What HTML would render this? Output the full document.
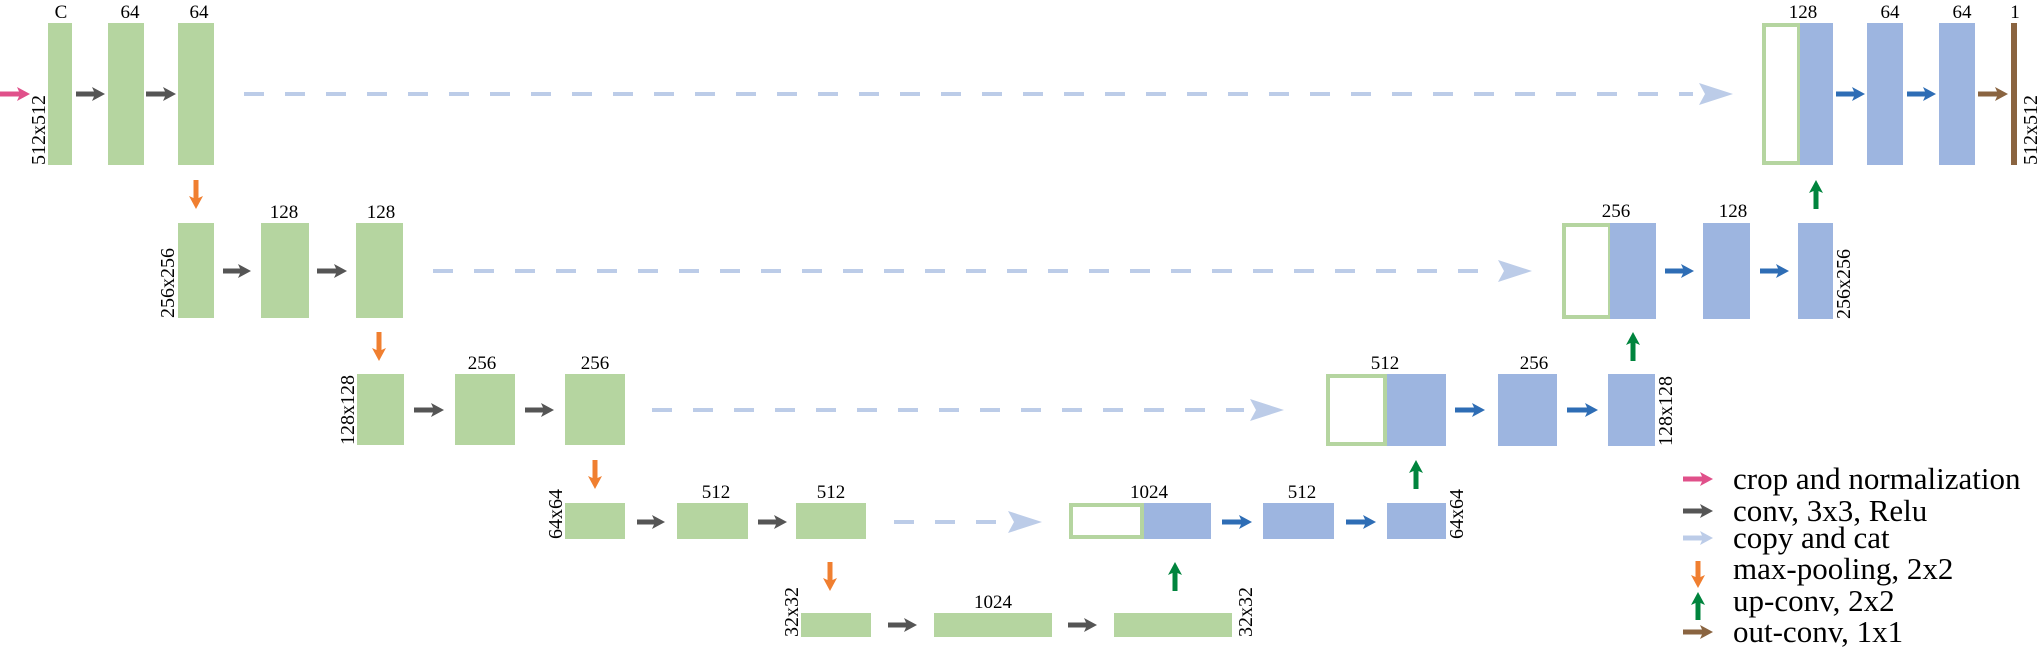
<!DOCTYPE html>
<html><head><meta charset="utf-8"><style>
html,body{margin:0;padding:0;background:#fff;}
svg{display:block;}
text{font-family:"Liberation Serif",serif;fill:#000;}
</style></head><body>
<svg width="2043" height="650" viewBox="0 0 2043 650">
<g id="root"></g>
</svg>
<script>
const root=document.getElementById('root');
const NS='http://www.w3.org/2000/svg';
function mk(tag,attrs,name){const e=document.createElementNS(NS,tag);for(const k in attrs)e.setAttribute(k,attrs[k]);


root.appendChild(e);return e;}
const GREEN='#b5d5a0',BLUE='#9db5e0';
// blocks: x0,x1,y0,y1,fill
const blocks=[
[48,72,23,165,GREEN],[108,144,23,165,GREEN],[178,214,23,165,GREEN],
[178,214,223,318,GREEN],[261,309,223,318,GREEN],[356,403,223,318,GREEN],
[357,404,374,445,GREEN],[455,515,374,445,GREEN],[565,625,374,445,GREEN],
[565,625,503,539,GREEN],[677,748,503,539,GREEN],[796,866,503,539,GREEN],
[801,871,613,637,GREEN],[934,1052,613,637,GREEN],[1114,1232,613,637,GREEN],
[1069,1144,503,539,null],[1144,1211,503,539,BLUE],[1263,1334,503,539,BLUE],[1387,1446,503,539,BLUE],
[1326,1387,374,446,null],[1387,1446,374,446,BLUE],[1498,1557,374,446,BLUE],[1608,1655,374,446,BLUE],
[1562,1612,223,319,null],[1610,1656,223,319,BLUE],[1703,1750,223,319,BLUE],[1798,1833,223,319,BLUE],
[1762,1801,23,165,null],[1800,1833,23,165,BLUE],[1867,1903,23,165,BLUE],[1939,1975,23,165,BLUE],
[2011,2017,23,165,'#8a6440']];
blocks.forEach((b,i)=>{
 if(b[4]) mk('rect',{x:b[0],y:b[2],width:b[1]-b[0],height:b[3]-b[2],fill:b[4]},'feature-block');
 else mk('rect',{x:b[0]+2,y:b[2]+2,width:b[1]-b[0]-4,height:b[3]-b[2]-4,fill:'none',stroke:GREEN,'stroke-width':4},'copied-feature-outline');
});
// horizontal arrows x0,x1,y,color
const harrows=[
[0,30,94,'#e0508a'],[76,105,94,'#555'],[146,176,94,'#555'],
[223,251,271,'#555'],[317,347,271,'#555'],
[414,444,410,'#555'],[525,554,410,'#555'],
[637,665,522,'#555'],[758,787,522,'#555'],
[888,917,625,'#555'],[1068,1097,625,'#555'],
[1222,1252,522,'#2e6db5'],[1346,1376,522,'#2e6db5'],
[1455,1485,410,'#2e6db5'],[1567,1598,410,'#2e6db5'],
[1665,1694,271,'#2e6db5'],[1760,1789,271,'#2e6db5'],
[1836,1865,94,'#2e6db5'],[1907,1936,94,'#2e6db5'],[1978,2008,94,'#8a6440'],
[1683,1713,479,'#e0508a'],[1683,1713,511,'#555'],[1683,1713,538,'#bccce8'],[1683,1713,632,'#8a6440']];
harrows.forEach(a=>{
 const [x0,x1,y,c]=a;
 mk('path',{d:`M${x0},${y-2.5} L${x1-11},${y-2.5} L${x1-13},${y-7} L${x1},${y} L${x1-13},${y+7} L${x1-11},${y+2.5} L${x0},${y+2.5}Z`,fill:c},'arrow');
});
// vertical arrows x,y0,y1,color,dir
const varrows=[[196,180,209,'#f07f30',1],[379,332,361,'#f07f30',1],[595,460,489,'#f07f30',1],[830,562,591,'#f07f30',1],
[1175,562,591,'#00843d',-1],[1416,460,489,'#00843d',-1],[1633,332,361,'#00843d',-1],[1816,180,209,'#00843d',-1],
[1698,561,588,'#f07f30',1],[1698,592,620,'#00843d',-1]];
varrows.forEach(a=>{
 const [x,y0,y1,c,d]=a;
 let p;
 if(d>0) p=`M${x-2.5},${y0} L${x+2.5},${y0} L${x+2.5},${y1-11} L${x+7},${y1-13} L${x},${y1} L${x-7},${y1-13} L${x-2.5},${y1-11}Z`;
 else p=`M${x-2.5},${y1} L${x+2.5},${y1} L${x+2.5},${y0+11} L${x+7},${y0+13} L${x},${y0} L${x-7},${y0+13} L${x-2.5},${y0+11}Z`;
 mk('path',{d:p,fill:c},'arrow');
});
// copy-and-cat dashed lines x0,x1(head tip),y
const dashes=[[244,1733,94],[433,1532,271],[652,1284,410],[894,1042,522]];
dashes.forEach(a=>{
 const [x0,x1,y]=a;
 mk('line',{x1:x0,y1:y,x2:x1-40,y2:y,stroke:'#bccce8','stroke-width':4,'stroke-dasharray':'20 21'},'copy-dashed-line');
 mk('path',{d:`M${x1-34},${y-11} L${x1},${y} L${x1-34},${y+11} L${x1-28},${y}Z`,fill:'#bccce8'},'copy-arrowhead');
});
// channel labels x(center), y(baseline), text
const chan=[[61,18,'C'],[130,18,'64'],[199,18,'64'],[284,218,'128'],[381,218,'128'],[482,369,'256'],[595,369,'256'],
[716,498,'512'],[831,498,'512'],[993,608,'1024'],[1149,498,'1024'],[1302,498,'512'],[1385,369,'512'],[1534,369,'256'],
[1616,217,'256'],[1733,217,'128'],[1803,18,'128'],[1890,18,'64'],[1962,18,'64'],[2015,18,'1']];
chan.forEach(c=>{const t=mk('text',{x:c[0],y:c[1],'font-size':19,'text-anchor':'middle'},'channel-label');t.textContent=c[2];});
// rotated size labels: baseline x, bottom y, text
const sizes=[[45,165,'512x512'],[174,318,'256x256'],[354,445,'128x128'],[562,539,'64x64'],[798,637,'32x32'],
[1252,637,'32x32'],[1463,539,'64x64'],[1672,446,'128x128'],[1850,319,'256x256'],[2037,165,'512x512']];
sizes.forEach(s=>{const t=mk('text',{x:0,y:0,'font-size':20,transform:`translate(${s[0]},${s[1]}) rotate(-90)`},'size-label');t.textContent=s[2];});
// legend
const legend=[[489,'crop and normalization'],[521,'conv, 3x3, Relu'],[548,'copy and cat'],[579,'max-pooling, 2x2'],[611,'up-conv, 2x2'],[642,'out-conv, 1x1']];
legend.forEach(l=>{const t=mk('text',{x:1733,y:l[0],'font-size':31},'legend-entry');t.textContent=l[1];});
</script>
</body></html>
